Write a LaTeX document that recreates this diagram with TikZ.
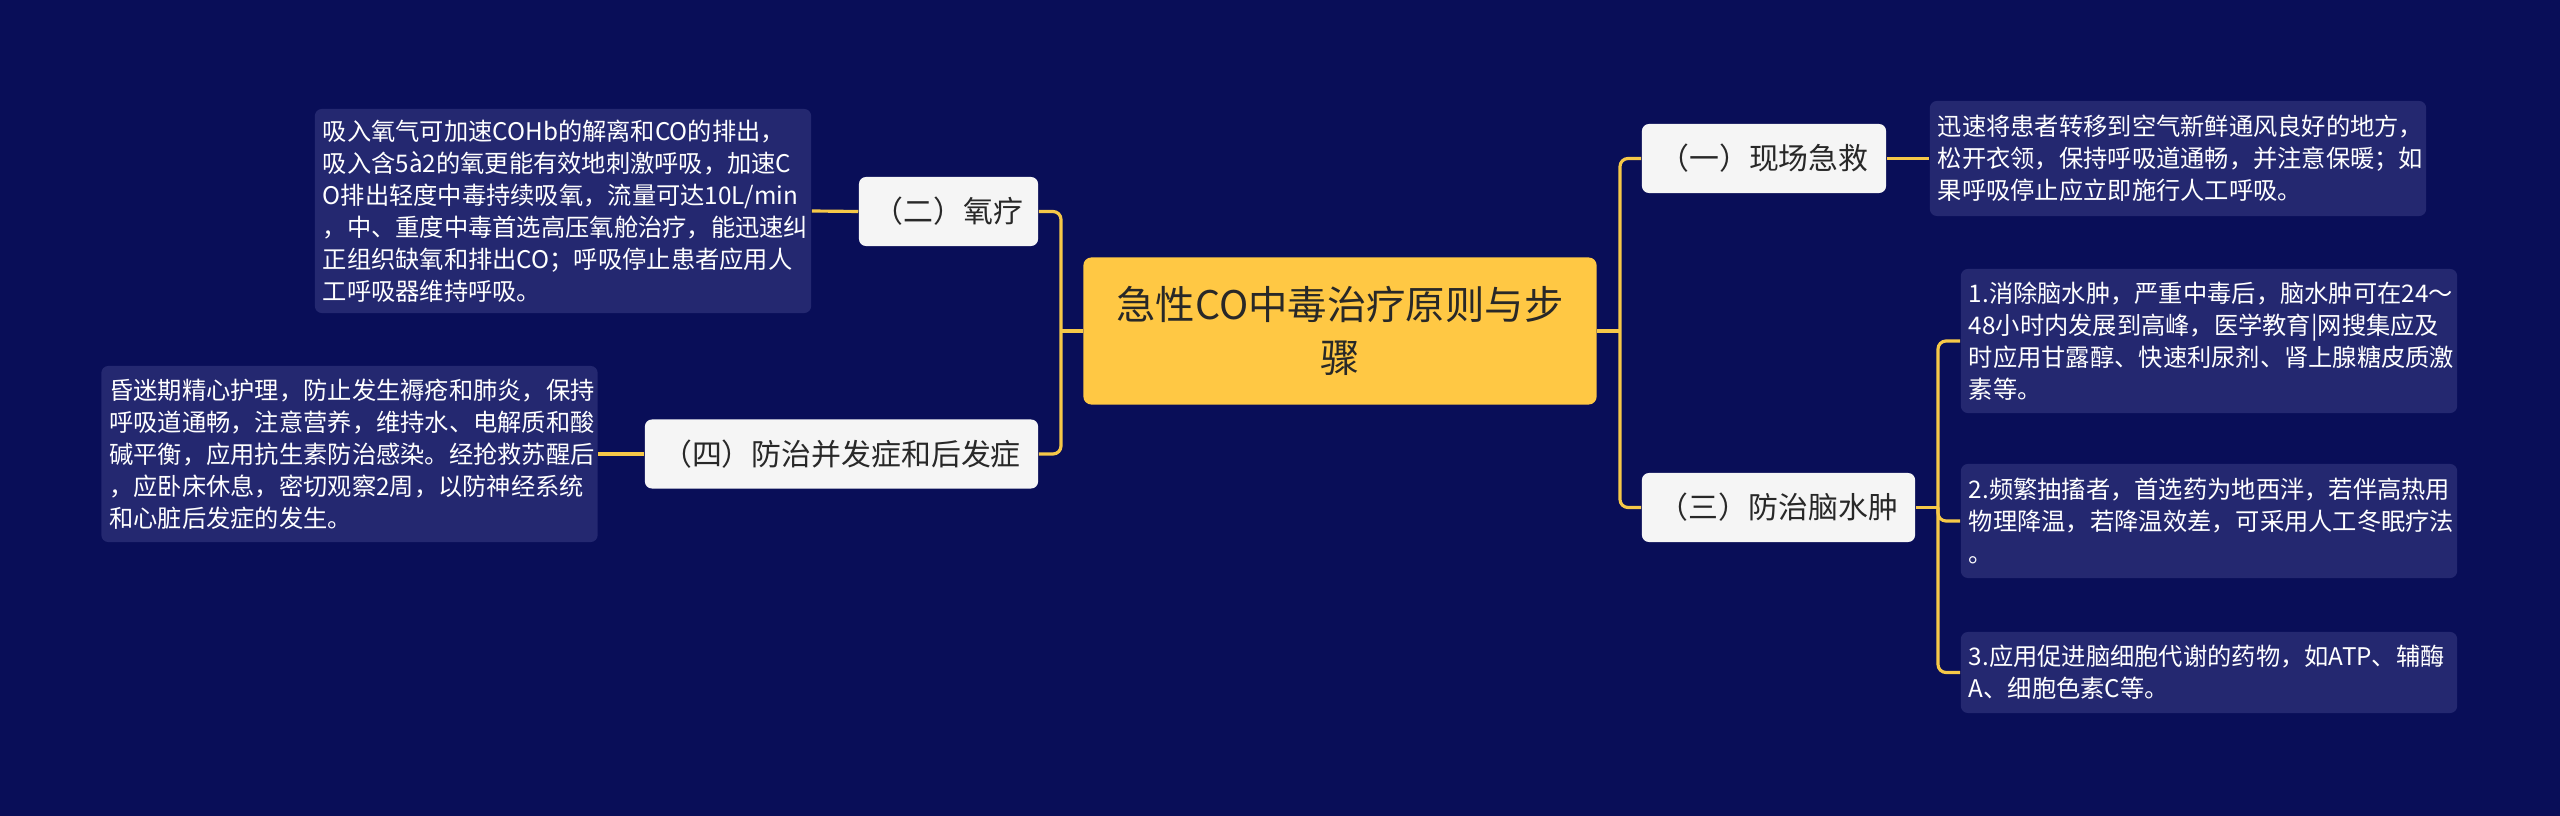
\documentclass[tikz,border=0pt]{standalone}
\usepackage{fontspec}
\usepackage{tikz}
\usetikzlibrary{positioning}
\newfontfamily\cjk{Noto Sans CJK SC}
\definecolor{bgc}{RGB}{9,14,88}
\definecolor{notec}{RGB}{36,40,112}
\definecolor{linec}{RGB}{246,200,72}
\definecolor{rootc}{RGB}{255,200,68}
\definecolor{subc}{RGB}{245,245,245}
\definecolor{inkc}{RGB}{40,40,40}

\begin{document}
\begin{tikzpicture}[x=0.01cm,y=-0.01cm,
  root/.style={fill=rootc,text=inkc,rounded corners=0.08cm,align=center,inner sep=0pt,
    minimum width=5.13cm,minimum height=1.47cm,font=\cjk\fontsize{11.2}{15}\selectfont},
  topic/.style={fill=subc,text=inkc,rounded corners=0.07cm,inner sep=0pt,
    minimum height=0.69cm,font=\cjk\fontsize{8.5}{10}\selectfont},
  note/.style={fill=notec,text=white,rounded corners=0.07cm,align=left,inner xsep=0.08cm,inner ysep=0pt,
    text width=4.8cm,font=\cjk\fontsize{6.9}{9.1}\selectfont},
  link/.style={draw=linec,line width=0.9pt,rounded corners=0.08cm}]
  \fill[bgc] (0,0) rectangle (2560,816);
  \useasboundingbox (0,0) rectangle (2560,816);
  % centre
  \node[root] (main) at (1340,331) {急性CO中毒治疗原则与步\\骤};
  % left side
  \node[topic,minimum width=1.79cm] (oxy) at (948.5,211.5) {（二）氧疗};
  \node[topic,minimum width=3.93cm] (comp) at (841.5,454) {（四）防治并发症和后发症};
  \node[note,minimum height=2.04cm] (oxynote) at (563,211) {吸入氧气可加速COHb的解离和CO的排出，\\吸入含5à2的氧更能有效地刺激呼吸，加速C\\O排出轻度中毒持续吸氧，流量可达10L/min\\，中、重度中毒首选高压氧舱治疗，能迅速纠\\正组织缺氧和排出CO；呼吸停止患者应用人\\工呼吸器维持呼吸。};
  \node[note,minimum height=1.76cm] (compnote) at (349.5,454) {昏迷期精心护理，防止发生褥疮和肺炎，保持\\呼吸道通畅，注意营养，维持水、电解质和酸\\碱平衡，应用抗生素防治感染。经抢救苏醒后\\，应卧床休息，密切观察2周，以防神经系统\\和心脏后发症的发生。};
  % right side
  \node[topic,minimum width=2.44cm] (aid) at (1764,158.5) {（一）现场急救};
  \node[topic,minimum width=2.73cm] (brain) at (1778.5,507.5) {（三）防治脑水肿};
  \node[note,minimum height=1.15cm] (aidnote) at (2178,158.5) {迅速将患者转移到空气新鲜通风良好的地方，\\松开衣领，保持呼吸道通畅，并注意保暖；如\\果呼吸停止应立即施行人工呼吸。};
  \node[note,minimum height=1.44cm] (brain1) at (2209,341) {1.消除脑水肿，严重中毒后，脑水肿可在24～\\48小时内发展到高峰，医学教育|网搜集应及\\时应用甘露醇、快速利尿剂、肾上腺糖皮质激\\素等。};
  \node[note,minimum height=1.14cm] (brain2) at (2209,521) {2.频繁抽搐者，首选药为地西泮，若伴高热用\\物理降温，若降温效差，可采用人工冬眠疗法\\。};
  \node[note,minimum height=0.81cm] (brain3) at (2209,672.5) {3.应用促进脑细胞代谢的药物，如ATP、辅酶\\A、细胞色素C等。};
  % connectors
  \coordinate (lt) at (1061,331);
  \coordinate (rt) at (1620,331);
  \coordinate (st) at (1938,507.5);
  \draw[link] (oxy.east) -| (lt) |- (comp.east);
  \draw[link] (main.west) -- (lt);
  \draw[link] (aid.west) -| (rt) |- (brain.west);
  \draw[link] (main.east) -- (rt);
  \draw[link] (brain1.west) -| (st) |- (brain3.west);
  \draw[link] (st) |- (brain2.west);
  \draw[link] (brain.east) -- (st);
  \draw[link] (oxy.west) -- (oxynote.east);
  \draw[link] (comp.west) -- (compnote.east);
  \draw[link] (aid.east) -- (aidnote.west);
\end{tikzpicture}
\end{document}
